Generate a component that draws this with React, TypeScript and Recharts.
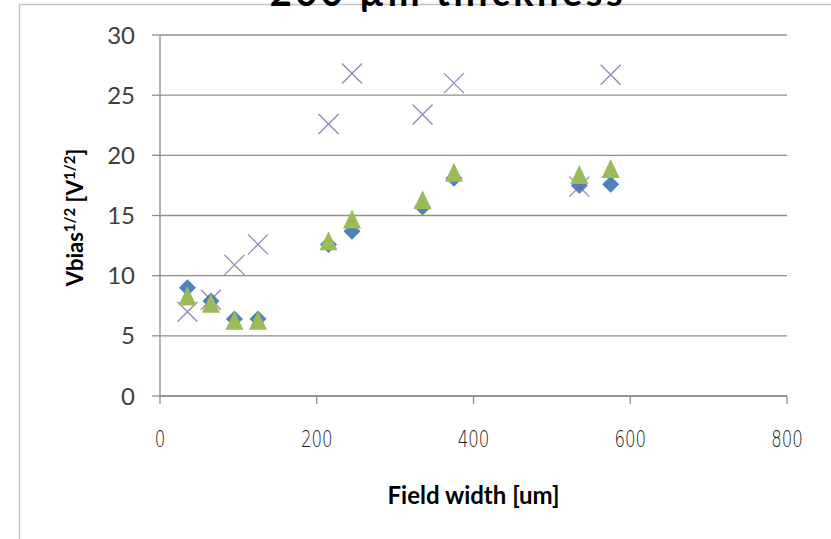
import React from "react";
import {
  ScatterChart,
  Scatter,
  XAxis,
  YAxis,
  CartesianGrid,
} from "recharts";

// Field widths (um) of the measured structures
const fieldWidth = [35, 65, 95, 125, 215, 245, 335, 375, 535, 575];

// sqrt(Vbias) for the three measurement sets
const seriesBlue = [9.0, 7.9, 6.4, 6.4, 12.6, 13.7, 15.7, 18.1, 17.5, 17.6];
const seriesGreen = [8.3, 7.7, 6.3, 6.3, 12.9, 14.7, 16.3, 18.6, 18.4, 18.9];
const seriesPurple = [7.0, 8.0, 10.9, 12.6, 22.6, 26.8, 23.4, 26.0, 17.4, 26.7];

const xTicks = [0, 200, 400, 600, 800];
const yTicks = [0, 5, 10, 15, 20, 25, 30];

const toPoints = (ys: number[]) => fieldWidth.map((x, i) => ({ x, y: ys[i] }));
const blueData = toPoints(seriesBlue);
const greenData = toPoints(seriesGreen);
const purpleData = toPoints(seriesPurple);

const GRID = "#8e8e8e";
const TEXT = "#404040";

const Diamond = (props: any) => {
  const { cx, cy } = props;
  if (cx == null || cy == null) return null;
  const r = 8.5;
  return (
    <path
      d={`M${cx},${cy - r}L${cx + r},${cy}L${cx},${cy + r}L${cx - r},${cy}Z`}
      fill="#4F81BD"
    />
  );
};

const Triangle = (props: any) => {
  const { cx, cy } = props;
  if (cx == null || cy == null) return null;
  const w = 9;
  const h = 9.5;
  return (
    <path
      d={`M${cx},${cy - h}L${cx + w},${cy + h}L${cx - w},${cy + h}Z`}
      fill="#9BBB59"
    />
  );
};

const Cross = (props: any) => {
  const { cx, cy } = props;
  if (cx == null || cy == null) return null;
  const r = 10;
  return (
    <path
      d={`M${cx - r},${cy - r}L${cx + r},${cy + r}M${cx - r},${cy + r}L${cx + r},${cy - r}`}
      stroke="#8064A2"
      strokeOpacity={0.8}
      strokeWidth={1.3}
      fill="none"
    />
  );
};

// Narrow, light numerals on the horizontal axis
const XTick = (props: any) => {
  const { x, y, payload } = props;
  return (
    <text
      x={x}
      y={y}
      dy="0.71em"
      textAnchor="middle"
      transform={`translate(${x} 0) scale(0.72 1) translate(${-x} 0)`}
      fontFamily="'DejaVu Sans', sans-serif"
      fontSize={23}
      fontWeight={200}
      fill="#222"
    >
      {payload.value}
    </text>
  );
};

const XLabel = (props: any) => {
  const vb = props.viewBox || { x: 160, y: 396, width: 627, height: 60 };
  return (
    <text
      x={vb.x + vb.width / 2}
      y={vb.y + 108}
      textAnchor="middle"
      fontFamily="Lato, 'Open Sans', sans-serif"
      fontWeight="bold"
      fontSize={24}
      fill="#000"
    >
      Field width [um]
    </text>
  );
};

const YLabel = (props: any) => {
  const vb = props.viewBox || { x: 100, y: 35, width: 60, height: 361 };
  const cx = vb.x - 17;
  const cy = vb.y + vb.height / 2 + 2;
  return (
    <text
      x={cx}
      y={cy}
      transform={`rotate(-90 ${cx} ${cy})`}
      textAnchor="middle"
      fontFamily="Lato, 'Open Sans', sans-serif"
      fontWeight="bold"
      fontSize={22}
      fill="#000"
    >
      <tspan>Vbias</tspan>
      <tspan fontSize={15} dy={-8}>1/2</tspan>
      <tspan dy={8}> [V</tspan>
      <tspan fontSize={15} dy={-8}>1/2</tspan>
      <tspan dy={8}>]</tspan>
    </text>
  );
};

export default function App() {
  return (
    <div
      style={{
        position: "absolute",
        left: 0,
        top: 0,
        width: 831,
        height: 539,
        overflow: "hidden",
        background: "#fff",
      }}
    >
      <svg
        width={831}
        height={539}
        style={{ position: "absolute", left: 0, top: 0 }}
      >
        <path d="M19.5,539V4.5H831" stroke="#c4c4c4" strokeWidth={1.5} fill="none" />
        <text
          x={448}
          y={6}
          textAnchor="middle"
          fontFamily="Lato, 'Open Sans', sans-serif"
          fontWeight="bold"
          fontSize={38}
          letterSpacing={3.5}
          fill="#000"
        >
          200 µm thickness
        </text>
      </svg>
      <div style={{ position: "absolute", left: 0, top: 0 }}>
        <ScatterChart
          width={831}
          height={539}
          margin={{ top: 35, right: 44, bottom: 83, left: 100 }}
        >
          <CartesianGrid vertical={false} stroke={GRID} strokeWidth={1.3} />
          <XAxis
            type="number"
            dataKey="x"
            domain={[0, 800]}
            ticks={xTicks}
            interval={0}
            height={60}
            tickSize={8}
            tickMargin={27}
            axisLine={{ stroke: GRID, strokeWidth: 1.3 }}
            tickLine={{ stroke: GRID, strokeWidth: 1.3 }}
            tick={<XTick />}
            label={<XLabel />}
          />
          <YAxis
            type="number"
            dataKey="y"
            domain={[0, 30]}
            ticks={yTicks}
            interval={0}
            width={60}
            tickSize={8}
            tickMargin={17}
            axisLine={{ stroke: GRID, strokeWidth: 1.3 }}
            tickLine={{ stroke: GRID, strokeWidth: 1.3 }}
            tick={{ fill: TEXT, fontSize: 24, fontFamily: "Lato, 'Open Sans', sans-serif" }}
            label={<YLabel />}
          />
          <Scatter data={blueData} shape={<Diamond />} isAnimationActive={false} />
          <Scatter data={purpleData} shape={<Cross />} isAnimationActive={false} />
          <Scatter data={greenData} shape={<Triangle />} isAnimationActive={false} />
        </ScatterChart>
      </div>
    </div>
  );
}
